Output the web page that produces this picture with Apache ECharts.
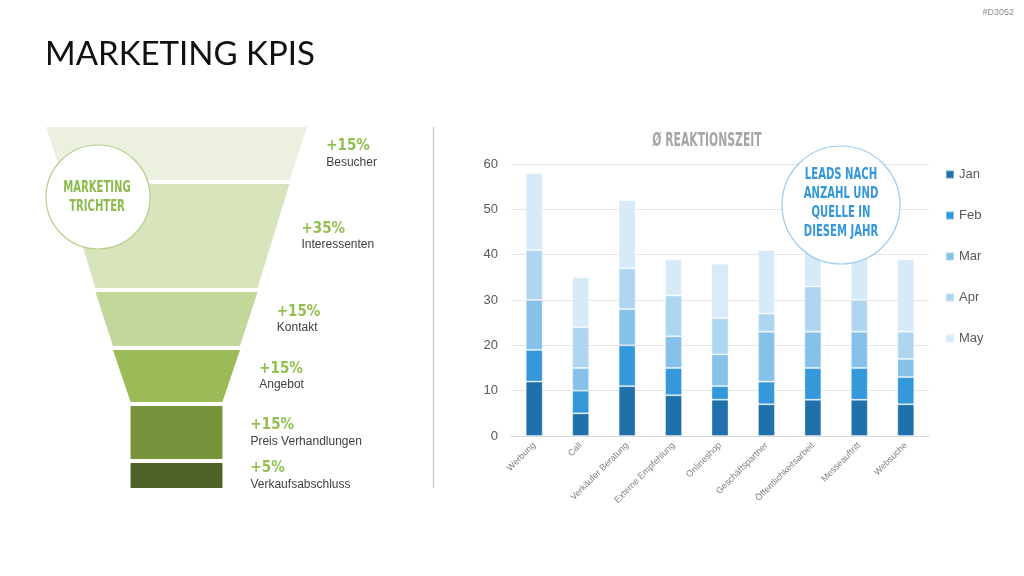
<!DOCTYPE html>
<html>
<head>
<meta charset="utf-8">
<script src="https://cdn.jsdelivr.net/npm/echarts@6/dist/echarts.min.js"></script>
<style>
  html, body { margin: 0; padding: 0; background: #fff; }
  #main { width: 1024px; height: 576px; }
</style>
</head>
<body>
<div id="main"></div>
<script>
// funnel
var stageNames = ['Besucher', 'Interessenten', 'Kontakt', 'Angebot', 'Preis Verhandlungen', 'Verkaufsabschluss'];
var stagePercents = [15, 35, 15, 15, 15, 5];
var stageVolume = [100, 86.5, 62, 48.5, 35, 35];
var stageColors = ['#ebf1de', '#d8e4bc', '#c4d79b', '#9bbb59', '#77933c', '#4f6228'];
var stageHeights = [53, 104, 54, 52, 53, 25]; // px hoehe je stufe

// leads
var sources = ['Werbung', 'Call', 'Verkäufer Beratung', 'Externe Empfehlung', 'Onlineshop',
    'Geschäftspartner', 'Öffentlichkeitsarbeit', 'Messeauftritt', 'Websuche'];
var months = ['Jan', 'Feb', 'Mar', 'Apr', 'May'];
var jan = [12, 5, 11, 9, 8, 7, 8, 8, 7];
var feb = [7, 5, 9, 6, 3, 5, 7, 7, 6];
var mar = [11, 5, 8, 7, 7, 11, 8, 8, 4];
var apr = [11, 9, 9, 9, 8, 4, 10, 7, 6];
var may = [17, 11, 15, 8, 12, 14, 11, 12, 16];
var yTicks = [0, 60, 10];
var monthColors = ['#1f70ab', '#3498db', '#85c1e9', '#aed6f1', '#d6eaf8'];

var labelFont = '"DejaVu Sans Condensed", "Roboto Condensed", sans-serif';
var textFont = 'Liberation Sans';

var monthData = [jan, feb, mar, apr, may];
var barSeries = months.map(function(m, i) {
    return {
        name: m,
        type: 'bar',
        stack: 'leads',
        barWidth: 17,
        itemStyle: {
            color: monthColors[i],
            borderColor: 'rgba(255,255,255,0.35)',
            borderWidth: 1
        },
        z: 2,
        data: monthData[i]
    };
});

var funnelData = stageNames.map(function(n, i) {
    return {
        name: n,
        value: stageVolume[i],
        pct: stagePercents[i],
        itemStyle: { color: stageColors[i], height: stageHeights[i] }
    };
});

var option = {
    backgroundColor: '#fff',
    animation: false,
    color: monthColors,
    grid: { left: 511, right: 95, top: 164, bottom: 140 },
    legend: {
        data: months,
        orient: 'vertical',
        left: 940,
        top: 163,
        itemGap: 28,
        itemWidth: 8,
        itemHeight: 8,
        icon: 'rect',
        textStyle: { color: '#595959', fontSize: 13, fontFamily: textFont }
    },
    xAxis: {
        type: 'category',
        data: sources,
        axisTick: { show: false },
        axisLine: { lineStyle: { color: '#d9d9d9' } },
        axisLabel: { rotate: 45, fontSize: 9, color: '#7f7f7f', margin: 8, fontFamily: textFont, interval: 0 }
    },
    yAxis: {
        type: 'value',
        min: yTicks[0],
        max: yTicks[1],
        interval: yTicks[2],
        axisLine: { show: false },
        axisTick: { show: false },
        axisLabel: { color: '#595959', fontSize: 13, margin: 13, fontFamily: textFont },
        splitLine: { lineStyle: { color: '#e6e6e6' } }
    },
    series: barSeries.concat([{
        type: 'funnel',
        left: 46,
        top: 127,
        width: 261,
        height: 361,
        sort: 'none',
        gap: 4,
        min: 35,
        max: 100,
        minSize: '35.2%',
        maxSize: '100%',
        funnelAlign: 'center',
        itemStyle: { borderWidth: 0 },
        emphasis: { disabled: true },
        labelLine: { show: false, length: 23 },
        label: {
            show: true,
            position: 'right',
            formatter: function(p) {
                return '{p|+' + p.data.pct + '%}\n{n|' + p.name + '}';
            },
            rich: {
                p: { fontFamily: labelFont, fontWeight: 'bold', fontSize: 15, color: '#92c050', lineHeight: 18 },
                n: { fontFamily: textFont, fontSize: 12, color: '#404040', lineHeight: 14 }
            }
        },
        data: funnelData
    }]),
    graphic: [
        { type: 'text', left: 45, top: 38, style: { text: 'MARKETING KPIS', font: '33px Lato', fill: '#111' } },
        { type: 'text', right: 10, top: 8, style: { text: '#D3052', font: '9px "Liberation Sans"', fill: '#8c8c8c' } },
        { type: 'line', shape: { x1: 433.5, y1: 127, x2: 433.5, y2: 488 }, style: { stroke: '#d0d0d0', lineWidth: 1.5 } },
        {
            type: 'text', x: 707, y: 141, scaleX: 0.6,
            style: { text: 'Ø REAKTIONSZEIT', font: 'bold 20px ' + labelFont, fill: '#a6a6a6', align: 'center', verticalAlign: 'middle' }
        },
        {
            type: 'circle', shape: { cx: 98, cy: 197, r: 52 }, z: 10,
            style: { fill: '#fff', stroke: '#b5cf8e', lineWidth: 1.2 }
        },
        {
            type: 'text', x: 97, y: 197, z: 11, scaleX: 0.7,
            style: { text: 'MARKETING\nTRICHTER', font: 'bold 16px ' + labelFont, lineHeight: 19, fill: '#8dbb4e', align: 'center', verticalAlign: 'middle' }
        },
        {
            type: 'circle', shape: { cx: 841, cy: 205, r: 59 }, z: 10,
            style: { fill: '#fff', stroke: '#9ccbee', lineWidth: 1.2 }
        },
        {
            type: 'text', x: 841, y: 203, z: 11, scaleX: 0.7,
            style: { text: 'LEADS NACH\nANZAHL UND\nQUELLE IN\nDIESEM JAHR', font: 'bold 16px ' + labelFont, lineHeight: 19, fill: '#3497da', align: 'center', verticalAlign: 'middle' }
        }
    ]
};

var myChart = echarts.init(document.getElementById('main'));
myChart.setOption(option);
</script>
</body>
</html>
